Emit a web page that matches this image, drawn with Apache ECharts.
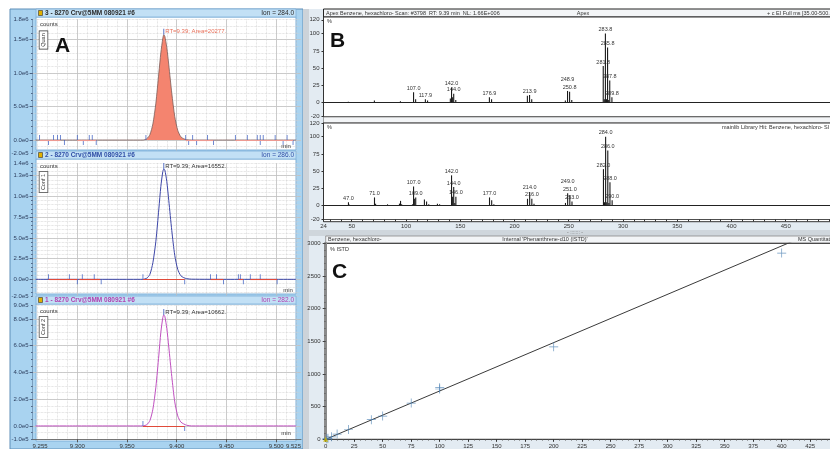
<!DOCTYPE html>
<html><head><meta charset="utf-8">
<script src="https://cdn.jsdelivr.net/npm/echarts@6/dist/echarts.min.js"></script>
<style>html,body{margin:0;padding:0;background:#fff}#c{width:830px;height:449px}</style>
</head><body><div id="c"></div>
<script>
// ================= DATA =================
// Panel A: extracted ion chromatograms (time in min, counts)
const rtTimes = [9.258, 9.300, 9.340, 9.366, 9.370, 9.373, 9.376, 9.379, 9.382, 9.384, 9.386, 9.387, 9.388, 9.390, 9.392, 9.395, 9.398, 9.401, 9.404, 9.407, 9.410, 9.415, 9.450, 9.520];
const ion284 = [0, 0, 0, 0, 2e4, 8e4, 2.4e5, 5.5e5, 1.0e6, 1.3e6, 1.52e6, 1.57e6, 1.55e6, 1.38e6, 1.12e6, 7.0e5, 3.5e5, 1.45e5, 5e4, 1.8e4, 5e3, 0, 0, 0];
const ion286 = [0, 0, 0, 0, 1.5e4, 6e4, 2e5, 4.6e5, 8.5e5, 1.12e6, 1.3e6, 1.33e6, 1.32e6, 1.18e6, 9.5e5, 5.9e5, 2.9e5, 1.2e5, 4.5e4, 2e4, 8e3, 2e3, 0, 0];
const ion282 = [0, 0, 0, 0, 1e4, 4e4, 1.25e5, 2.9e5, 5.3e5, 7e5, 8.1e5, 8.3e5, 8.2e5, 7.3e5, 5.9e5, 3.7e5, 1.8e5, 7.5e4, 3e4, 1.5e4, 5e3, 0, 0, 0];
const peakRT = [9.387, 9.387, 9.387];
const peakHeight = [1.57e6, 1.33e6, 8.3e5];
const peakText = ['RT=9.39; Area=20277.', 'RT=9.39; Area=16552.', 'RT=9.39; Area=10662.'];
const chromTitles = ['3 - 8270 Crv@5MM 080921 #6', '2 - 8270 Crv@5MM 080921 #6', '1 - 8270 Crv@5MM 080921 #6'];
const ionTitles = ['Ion = 284.0', 'Ion = 286.0', 'Ion = 282.0'];
const traceTags = ['Quan', 'Conf 1', 'Conf 2'];
// integration markers on baseline
const marksUp = [
  [9.262, 9.276, 9.280, 9.283, 9.300, 9.312, 9.315, 9.369, 9.409, 9.416, 9.431, 9.459, 9.471, 9.481, 9.484, 9.487, 9.499, 9.511],
  [9.271, 9.292, 9.305, 9.317, 9.366, 9.434, 9.440, 9.462, 9.464, 9.474, 9.484],
  [9.366]
];
const marksDown = [
  [9.271, 9.287, 9.306, 9.319, 9.412, 9.420, 9.437, 9.484, 9.507, 9.517],
  [9.300, 9.324, 9.408, 9.447, 9.467, 9.501],
  [9.408]
];
const baseSegs = [
  [[9.262, 9.283], [9.300, 9.319], [9.409, 9.437], [9.459, 9.517]],
  [[9.271, 9.300], [9.302, 9.323], [9.366, 9.408], [9.434, 9.447], [9.462, 9.467], [9.474, 9.501]],
  [[9.366, 9.408]]
];
const chromXLabels = [9.255, 9.300, 9.350, 9.400, 9.450, 9.500, 9.525];
const chromXMajor = [9.300, 9.350, 9.400, 9.450, 9.500];
const chromYMin = [-2e5, -2e5, -1e5];
const chromYMax = [1.8e6, 1.4e6, 9e5];
const chromYMajor = [
  [0, 5e5, 1e6, 1.5e6],
  [0, 2.5e5, 5e5, 7.5e5, 1e6, 1.25e6],
  [0, 2e5, 4e5, 6e5, 8e5]
];
const chromYMinorStep = [1e5, 5e4, 5e4];

// Panel B: mass spectra (m/z, relative %)
const apexMz  = [35.9, 46.9, 70.9, 83.0, 94.9, 107.0, 108.9, 117.9, 119.9, 140.9, 142.0, 143.0, 144.0, 145.9, 176.9, 178.9, 211.9, 213.9, 215.9, 246.9, 248.9, 250.8, 252.8, 281.8, 282.8, 283.8, 284.8, 285.8, 286.8, 287.8, 289.8];
const apexInt = [1, 1.5, 3, 1, 2, 15, 5, 5, 3, 6, 22, 8, 13, 4, 8, 5, 10, 11, 5, 3, 17, 16, 4, 53, 5, 100, 5, 80, 4, 32, 8];
const apexLabeled = [107.0, 117.9, 142.0, 144.0, 176.9, 213.9, 248.9, 250.8, 281.8, 283.8, 285.8, 287.8, 289.8];
const libMz  = [36, 47, 48, 49, 71, 72, 83, 85, 94, 95, 96, 106, 107, 108, 109, 117, 119, 121, 129, 131, 142, 143, 144, 145, 146, 177, 179, 181, 212, 214, 216, 218, 247, 249, 251, 253, 282, 283, 284, 285, 286, 287, 288, 290];
const libInt = [1, 5, 1.5, 1, 12, 3, 2, 1, 3, 7, 2, 2, 28, 10, 12, 9, 6, 2, 3, 2, 44, 13, 27, 4, 13, 12, 8, 2, 10, 20, 10, 3, 4, 18, 15, 6, 53, 5, 100, 5, 80, 4, 34, 8];
const libLabeled = [47, 71, 107, 109, 142, 144, 146, 177, 214, 216, 249, 251, 253, 282, 284, 286, 288, 290];
const specYLabels = [-20, 0, 25, 50, 75, 100, 120];
const specXLabels = [24, 50, 100, 150, 200, 250, 300, 350, 400, 450, 500];

// Panel C: calibration curve
const calAmount = [1, 2, 5, 10, 20, 40, 50, 75, 100, 100, 200, 400];
const calResp   = [8, 15, 38, 80, 150, 300, 355, 555, 770, 790, 1415, 2850];
const fitAmount = [0, 450];
const fitResp   = [0, 3330];

// ================= BUILD =================
const FONT = '"Liberation Sans", Arial, sans-serif';
function T(x, y, text, o) {
  o = o || {};
  const st = {text: text, fontSize: o.size || 6, fontFamily: FONT, fontWeight: o.bold ? 'bold' : 'normal',
    fill: o.color || '#333', textAlign: o.align || 'left', textVerticalAlign: 'middle'};
  if (o.border) { st.backgroundColor = '#fff'; st.borderColor = o.border; st.borderWidth = 0.7; st.padding = [1, 2]; }
  return {type: 'text', x: x, y: y, z: (o.z != null ? o.z : 30), rotation: o.rot || 0, style: st};
}
function R(x, y, w, h, fill, stroke, z, lw) {
  return {type: 'rect', z: z, shape: {x: x, y: y, width: w, height: h},
    style: {fill: fill, stroke: stroke || null, lineWidth: stroke ? (lw || 1) : 0}};
}
function stepList(a, b, s) { const r = []; for (let v = a; v <= b + s * 1e-6; v += s) r.push(+v.toFixed(6)); return r; }
const expFmt = v => Number(v).toExponential(1).replace('+', '');

const spGeom = [
  {title: [9, 17],   white: [17, 150],  top: 19.4,  h: 134},
  {title: [151, 159], white: [159, 294], top: 163.3, h: 132.6},
  {title: [296, 304], white: [304, 441], top: 305.6, h: 133.7}
];
const spColors = [
  {line: '#7b5c58', title: '#2a2a2a', ann: '#e8705a'},
  {line: '#3d46a8', title: '#2f4ea6', ann: '#333'},
  {line: '#c050c0', title: '#b040b0', ann: '#333'}
];
const chromData = [ion284, ion286, ion282];
const minorX = stepList(9.26, 9.52, 0.01);

const grids = [], xAxes = [], yAxes = [], series = [];
for (let i = 0; i < 3; i++) {
  const g = spGeom[i];
  grids.push({left: 32.6, top: g.top, width: 268.4, height: g.h, outerBoundsMode: 'none', containLabel: false});
  const last = i === 2;
  xAxes.push({type: 'value', gridIndex: i, min: 9.255, max: 9.525, position: 'bottom',
    axisLine: {show: last, onZero: false, lineStyle: {color: '#555', width: 0.8}},
    axisTick: {show: last, customValues: chromXMajor, length: 3, lineStyle: {color: '#555'}},
    axisLabel: {show: last, customValues: chromXLabels, fontSize: 6, color: '#333', margin: 4,
      formatter: v => Number(v).toFixed(3), alignMinLabel: 'left', alignMaxLabel: 'right'},
    splitLine: {show: true, lineStyle: {color: '#bdbdbd', width: 0.8}}});
  xAxes.push({type: 'value', gridIndex: i, min: 9.255, max: 9.525, position: 'top',
    axisLine: {show: false}, axisLabel: {show: false},
    axisTick: {show: false, customValues: minorX},
    splitLine: {show: true, lineStyle: {color: '#cfcfcf', width: 0.7, type: 'dotted'}}});
  const yl = [chromYMin[i]].concat(chromYMajor[i], [chromYMax[i]]);
  yAxes.push({type: 'value', gridIndex: i, min: chromYMin[i], max: chromYMax[i], position: 'left',
    axisLine: {show: true, lineStyle: {color: '#6d8fb0', width: 0.8}},
    axisTick: {show: true, customValues: chromYMajor[i], length: 3, lineStyle: {color: '#4a5f80'}},
    axisLabel: {customValues: yl, fontSize: 6, color: '#2d3e5e', margin: 4, formatter: expFmt},
    splitLine: {show: true, lineStyle: {color: '#bdbdbd', width: 0.8}}});
  yAxes.push({type: 'value', gridIndex: i, min: chromYMin[i], max: chromYMax[i], position: 'left',
    axisLine: {show: false}, axisLabel: {show: false},
    axisTick: {show: true, customValues: stepList(chromYMin[i], chromYMax[i], chromYMinorStep[i]), length: 1.5, lineStyle: {color: '#4a5f80'}},
    splitLine: {show: true, lineStyle: {color: '#cfcfcf', width: 0.7, type: 'dotted'}}});
}
// B grids
grids.push({left: 323.5, top: 19.8, width: 516.5, height: 96.7, outerBoundsMode: 'none', containLabel: false});
grids.push({left: 323.5, top: 122.9, width: 516.5, height: 96.6, outerBoundsMode: 'none', containLabel: false});
// C grid
grids.push({left: 325.7, top: 243.3, width: 513, height: 196, outerBoundsMode: 'none', containLabel: false});

// B axes: x 6,7 ; y 6,7
xAxes.push({type: 'value', gridIndex: 3, min: 24, max: 500, axisLine: {show: false}, axisTick: {show: false}, axisLabel: {show: false}, splitLine: {show: false}});
xAxes.push({type: 'value', gridIndex: 4, min: 24, max: 500, position: 'bottom',
  axisLine: {show: true, onZero: false, lineStyle: {color: '#222', width: 0.8}},
  axisTick: {show: true, customValues: [24].concat(stepList(30, 500, 10)), length: 2, lineStyle: {color: '#333'}},
  axisLabel: {customValues: specXLabels, fontSize: 6, color: '#333', margin: 4},
  splitLine: {show: false}});
for (let k = 3; k <= 4; k++) {
  yAxes.push({type: 'value', gridIndex: k, min: -20, max: 120, position: 'left',
    axisLine: {show: true, lineStyle: {color: '#333', width: 0.8}},
    axisTick: {show: true, customValues: specYLabels, length: 2, lineStyle: {color: '#333'}},
    axisLabel: {customValues: specYLabels, fontSize: 6, color: '#333', margin: 4},
    splitLine: {show: false}});
}
// C axes: x 8 ; y 8
xAxes.push({type: 'value', gridIndex: 5, min: 0, max: 450, interval: 25, position: 'bottom',
  axisLine: {show: true, onZero: false, lineStyle: {color: '#444', width: 0.8}},
  axisTick: {show: true, length: 2.5, lineStyle: {color: '#333'}},
  minorTick: {show: true, splitNumber: 5, length: 1.2, lineStyle: {color: '#555'}},
  axisLabel: {fontSize: 6, color: '#333', margin: 4, formatter: v => String(v)},
  splitLine: {show: false}});
yAxes.push({type: 'value', gridIndex: 5, min: 0, max: 3000, interval: 500, position: 'left',
  axisLine: {show: true, lineStyle: {color: '#8a8a8a', width: 3}},
  axisTick: {show: true, length: 3, lineStyle: {color: '#444'}},
  minorTick: {show: true, splitNumber: 5, length: 1.5, lineStyle: {color: '#666'}},
  axisLabel: {fontSize: 6, color: '#333', margin: 5, formatter: v => String(v)},
  splitLine: {show: false}});

// chromatogram series
for (let i = 0; i < 3; i++) {
  const c = spColors[i];
  const s = {type: 'line', xAxisIndex: 2 * i, yAxisIndex: 2 * i, symbol: 'none', smooth: 0.25, z: 3,
    data: rtTimes.map((t, k) => [t, chromData[i][k]]),
    lineStyle: {color: c.line, width: i === 0 ? 0.8 : 1},
    markLine: {silent: true, symbol: ['none', 'none'], label: {show: false},
      lineStyle: {color: i === 0 ? '#ee9a92' : '#e04a3a', type: 'solid', width: 1.1},
      data: baseSegs[i].map(sg => [{coord: [sg[0], 0]}, {coord: [sg[1], 0]}])},
    markPoint: {silent: true, symbol: 'rect', symbolSize: [0.8, 6], symbolOffset: [0, -3],
      itemStyle: {color: '#3355bb'},
      label: {show: true, position: 'right', distance: 1, fontSize: 6, color: c.ann, fontFamily: FONT,
        formatter: peakText[i], overflow: 'none', width: 120},
      data: [{coord: [peakRT[i], peakHeight[i]]}]}
  };
  if (i === 0) s.areaStyle = {color: '#f4846f', opacity: 1};
  series.push(s);
  series.push({type: 'scatter', xAxisIndex: 2 * i, yAxisIndex: 2 * i, symbol: 'rect', symbolSize: [0.9, 5], symbolOffset: [0, -2.5], z: 4,
    itemStyle: {color: '#3a5cc0'}, data: marksUp[i].map(t => [t, 0])});
  series.push({type: 'scatter', xAxisIndex: 2 * i, yAxisIndex: 2 * i, symbol: 'rect', symbolSize: [0.9, 5], symbolOffset: [0, 2.5], z: 4,
    itemStyle: {color: '#3a5cc0'}, data: marksDown[i].map(t => [t, 0])});
}
// spectra (label lifts avoid overlaps, as in the original software layout)
const labelLift = {'248.9': 7, '249': 8, '251': 2};
function specSeries(mz, inten, labeled, axis) {
  return {type: 'bar', xAxisIndex: axis, yAxisIndex: axis, barWidth: 1.1, z: 3,
    itemStyle: {color: '#1a1a1a'},
    data: mz.map((m, k) => ({value: [m, inten[k]], label: {show: labeled.indexOf(m) >= 0}})),
    label: {position: 'top', distance: 1, fontSize: 5.5, color: '#333', fontFamily: FONT,
      formatter: p => Number(p.value[0]).toFixed(1)},
    labelLayout: p => ({dy: -(labelLift[String(mz[p.dataIndex])] || 0)}),
    markLine: {silent: true, symbol: ['none', 'none'], label: {show: false},
      lineStyle: {color: '#222', type: 'solid', width: 1}, data: [{yAxis: 0}]}
  };
}
series.push(specSeries(apexMz, apexInt, apexLabeled, 6));
series.push(specSeries(libMz, libInt, libLabeled, 7));
// calibration
series.push({type: 'line', xAxisIndex: 8, yAxisIndex: 8, symbol: 'none', z: 3, clip: true,
  lineStyle: {color: '#3a3a3a', width: 1}, data: fitAmount.map((x, k) => [x, fitResp[k]])});
series.push({type: 'scatter', xAxisIndex: 8, yAxisIndex: 8, z: 4,
  symbol: 'path://M4.6,0H5.4V4.6H10V5.4H5.4V10H4.6V5.4H0V4.6H4.6Z', symbolSize: 9,
  itemStyle: {color: '#4a7fb2'}, data: calAmount.map((x, k) => [x, calResp[k]])});
series.push({type: 'scatter', xAxisIndex: 8, yAxisIndex: 8, z: 5, symbol: 'triangle', symbolSize: 5,
  itemStyle: {color: '#c9b400'}, data: [[0, 0]]});

// ================= DECORATION =================
const gfx = [];
gfx.push(R(10, 9, 293, 440, '#a9d3f0', '#5e8fb8', -10, 1));
gfx.push(R(303, 9, 6, 440, '#cdd3d9', null, -10));
gfx.push(R(309, 9, 521, 440, '#e3ebf2', null, -10));
for (let i = 0; i < 3; i++) {
  const g = spGeom[i], c = spColors[i];
  gfx.push(R(36, g.white[0], 260, g.white[1] - g.white[0], '#fff', '#7fb0d8', -5, 1));
  gfx.push(R(36, g.title[0], 260, g.title[1] - g.title[0], '#c2e0f5', '#7fb0d8', 8, 0.8));
  gfx.push(R(38.5, g.title[0] + 1.5, 4, 5, '#e2b000', '#333', 9, 0.6));
  gfx.push(T(45, (g.title[0] + g.title[1]) / 2, chromTitles[i], {size: 6.5, color: c.title, bold: true}));
  gfx.push(T(294, (g.title[0] + g.title[1]) / 2, ionTitles[i], {size: 6.5, color: c.title, align: 'right'}));
  gfx.push(T(40, g.white[0] + 7, 'counts', {size: 6}));
  gfx.push(T(43.5, g.white[0] + 23, traceTags[i], {size: 5.5, rot: Math.PI / 2, align: 'center', border: '#333'}));
}
gfx.push(T(286, 146, 'min', {size: 6, align: 'center'}));
gfx.push(T(288, 290, 'min', {size: 6, align: 'center'}));
gfx.push(T(286, 433, 'min', {size: 6, align: 'center'}));
gfx.push(T(55, 46, 'A', {size: 21, bold: true, color: '#111'}));
// Panel B frames
gfx.push(R(323.5, 9, 507, 8, '#f3f5f7', '#222', -5, 1));
gfx.push(R(323.5, 17, 507, 99.7, '#fff', '#333', -5, 1));
gfx.push(R(323.5, 117, 507, 6, '#f3f5f7', '#888', -5, 0.8));
gfx.push(R(323.5, 123, 507, 98.7, '#fff', '#333', -5, 1));
gfx.push(T(326, 13, 'Apex Benzene, hexachloro- Scan: #3798  RT: 9.39 min  NL: 1.66E+006', {size: 5.5}));
gfx.push(T(583, 13, 'Apex', {size: 5.5, align: 'center'}));
gfx.push(T(767, 13, '+ c EI Full ms [35.00-500.00]', {size: 5.5}));
gfx.push(T(327, 21.5, '%', {size: 5.5}));
gfx.push(T(327, 127.5, '%', {size: 5.5}));
gfx.push(T(722, 127.5, 'mainlib Library Hit: Benzene, hexachloro- SI', {size: 5.5}));
gfx.push(T(330, 41, 'B', {size: 21, bold: true, color: '#111'}));
// B/C separator
gfx.push(R(309, 230, 521, 6, '#cfd6dc', null, -9));
gfx.push(T(575, 233, '- ::::::: -', {size: 5, align: 'center', color: '#777'}));
// Panel C frames
gfx.push(R(325.7, 236, 505, 7.3, '#f3f5f7', '#888', -5, 0.8));
gfx.push(R(325.7, 243.3, 505, 196, '#fff', '#222', -5, 1));
gfx.push(T(328, 239.5, 'Benzene, hexachloro-', {size: 5.5}));
gfx.push(T(545, 239.5, "Internal 'Phenanthrene-d10 (ISTD)'", {size: 5.5, align: 'center'}));
gfx.push(T(798, 239.5, 'MS Quantitation', {size: 5.5}));
gfx.push(T(330, 249, '% ISTD', {size: 5.5}));
gfx.push(T(332, 272, 'C', {size: 21, bold: true, color: '#111'}));

const chart = echarts.init(document.getElementById('c'), null, {renderer: 'canvas'});
chart.setOption({
  animation: false,
  textStyle: {fontFamily: FONT},
  grid: grids, xAxis: xAxes, yAxis: yAxes, series: series, graphic: {elements: gfx}
});
</script></body></html>
